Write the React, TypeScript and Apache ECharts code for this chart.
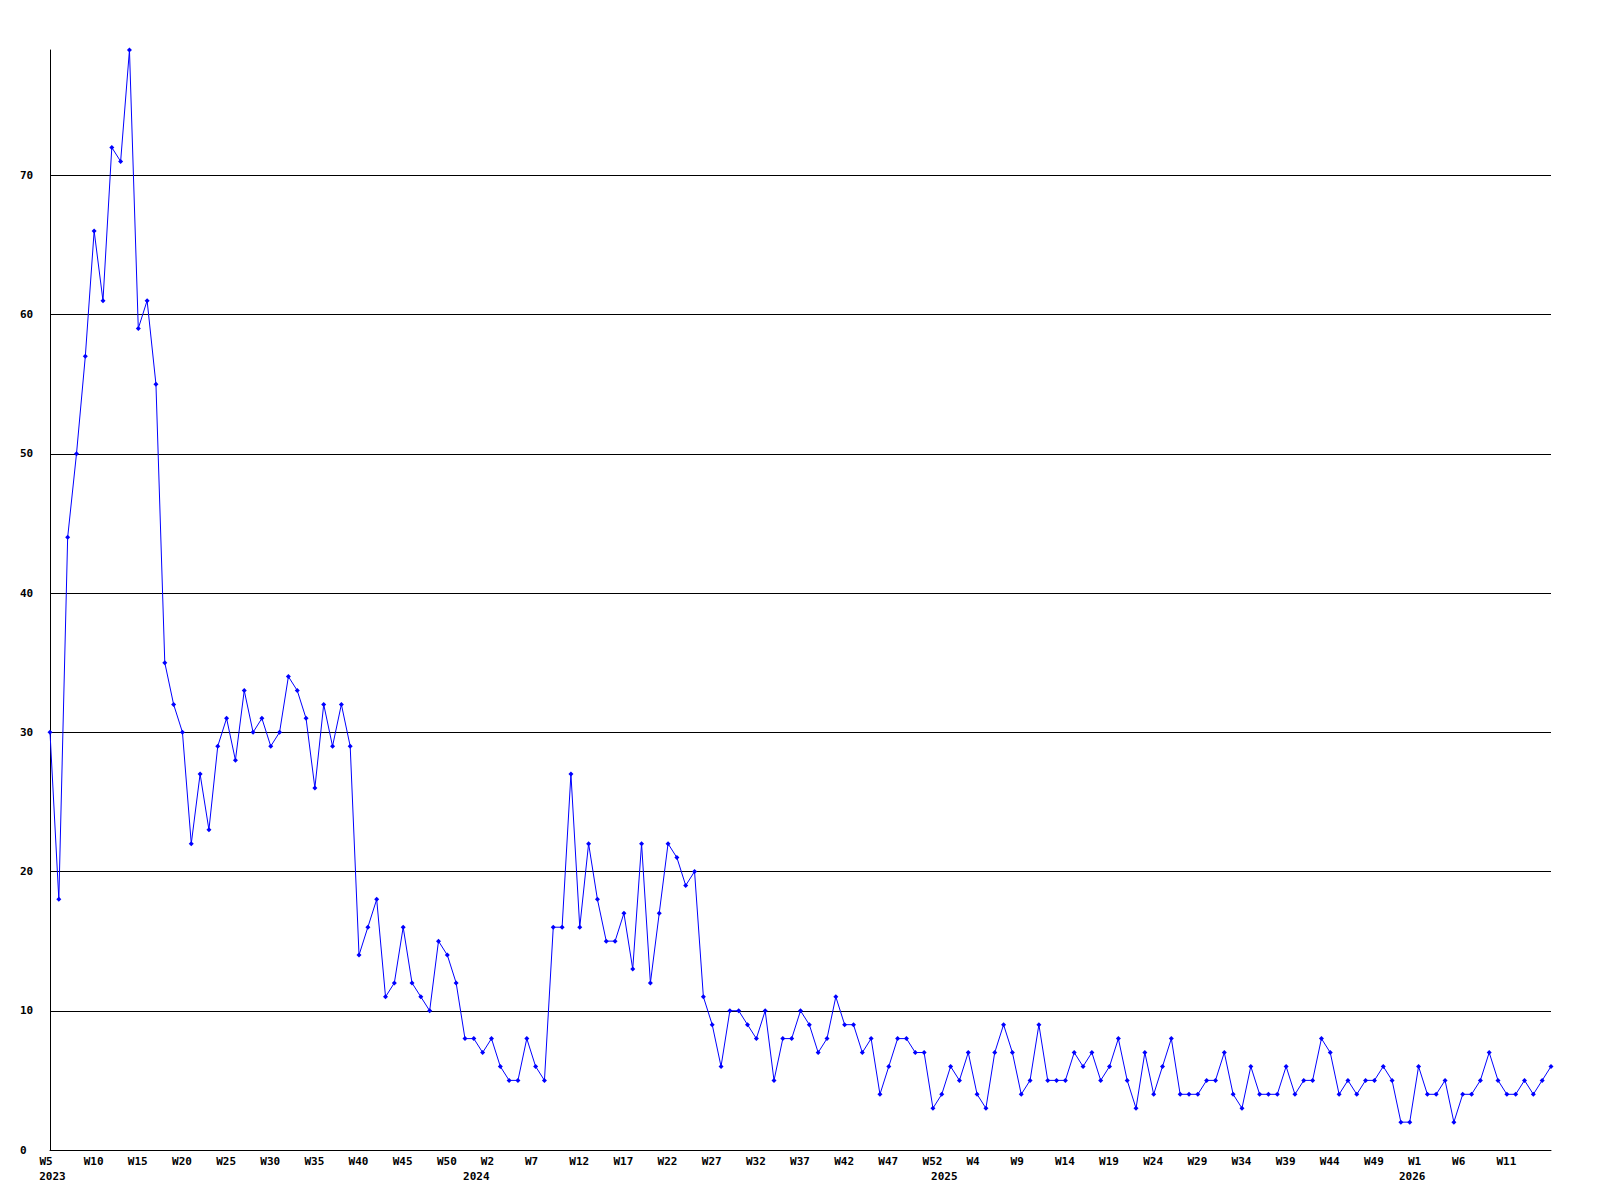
import React, { useEffect, useRef } from "react";
import * as echarts from "echarts";

// Year segments of the weekly axis (week numbering starts at W0 each year)
const years = [2023, 2024, 2025, 2026];
const firstWeek = [5, 0, 0, 0];
const lastWeek = [52, 52, 52, 16];

// Weekly values per year
const values2023 = [
  30, 18, 44, 50, 57, 66, 61, 72, 71, 79,
  59, 61, 55, 35, 32, 30, 22, 27, 23, 29,
  31, 28, 33, 30, 31, 29, 30, 34, 33, 31,
  26, 32, 29, 32, 29, 14, 16, 18, 11, 12,
  16, 12, 11, 10, 15, 14, 12, 8,
];
const values2024 = [
  8, 7, 8, 6, 5, 5, 8, 6, 5, 16, 16,
  27, 16, 22, 18, 15, 15, 17, 13, 22, 12,
  17, 22, 21, 19, 20, 11, 9, 6, 10, 10,
  9, 8, 10, 5, 8, 8, 10, 9, 7, 8,
  11, 9, 9, 7, 8, 4, 6, 8, 8, 7,
  7, 3,
];
const values2025 = [
  4, 6, 5, 7, 4, 3, 7, 9, 7, 4, 5,
  9, 5, 5, 5, 7, 6, 7, 5, 6, 8,
  5, 3, 7, 4, 6, 8, 4, 4, 4, 5,
  5, 7, 4, 3, 6, 4, 4, 4, 6, 4,
  5, 5, 8, 7, 4, 5, 4, 5, 5, 6,
  5, 2,
];
const values2026 = [2, 6, 4, 4, 5, 2, 4, 4, 5, 7, 5, 4, 4, 5, 4, 5, 6];

const yTicks = [0, 10, 20, 30, 40, 50, 60, 70];

const categories: { year: number; week: number }[] = [];
years.forEach((y, k) => {
  for (let w = firstWeek[k]; w <= lastWeek[k]; w++) categories.push({ year: y, week: w });
});
const values = [...values2023, ...values2024, ...values2025, ...values2026];
const catKeys = categories.map((c) => `${c.year}-W${c.week}`);
const isYearStart = (i: number) => i === 0 || categories[i].year !== categories[i - 1].year;
const lastIndex = categories.length - 1;

const FONT = "DejaVu Sans Mono";
const txt = { fontFamily: FONT, fontWeight: "bold" as const, fontSize: 11, color: "#000" };

export default function App() {
  const ref = useRef<HTMLDivElement>(null);
  useEffect(() => {
    if (!ref.current) return;
    const chart = echarts.init(ref.current, null, { renderer: "svg" });
    chart.setOption({
      animation: false,
      backgroundColor: "#ffffff",
      grid: { left: 50, top: 50, width: 1501, height: 1100, containLabel: false },
      xAxis: [
        {
          type: "category",
          data: catKeys,
          boundaryGap: false,
          axisLine: { show: true, lineStyle: { color: "#000", width: 1 } },
          axisTick: { show: false },
          splitLine: { show: false },
          axisLabel: {
            interval: (i: number) => i % 5 === 0 && i !== lastIndex,
            formatter: (_v: string, i: number) => {
              const s = `W${categories[i].week}`;
              return s.length === 2 ? `{w2|${s}}` : `{w3|${s}}`;
            },
            ...txt,
            margin: 6,
            align: "center",
            rich: {
              w2: { ...txt, padding: [0, 8, 0, 0] },
              w3: { ...txt, padding: [0, 1, 0, 0] },
            },
          },
        },
        {
          type: "category",
          data: catKeys,
          boundaryGap: false,
          position: "bottom",
          axisLine: { show: false },
          axisTick: { show: false },
          splitLine: { show: false },
          axisLabel: {
            interval: (i: number) => isYearStart(i),
            formatter: (_v: string, i: number) => `{y|${categories[i].year}}`,
            ...txt,
            margin: 21,
            align: "center",
            rich: {
              y: { ...txt, padding: [0, 0, 0, 5] },
            },
          },
        },
      ],
      yAxis: {
        type: "value",
        min: 0,
        max: 79,
        interval: 10,
        axisLine: { show: true, lineStyle: { color: "#000", width: 1 } },
        axisTick: { show: false },
        splitLine: {
          show: true,
          showMinLine: false,
          showMaxLine: false,
          lineStyle: { color: "#000", width: 1 },
        },
        axisLabel: {
          showMaxLabel: false,
          formatter: (v: number) => (yTicks.includes(v) ? String(v) : ""),
          ...txt,
          margin: 30,
          align: "left",
        },
      },
      series: [
        {
          type: "line",
          xAxisIndex: 0,
          data: values,
          symbol: "diamond",
          symbolSize: 5,
          showAllSymbol: true,
          lineStyle: { color: "#0000ff", width: 1 },
          itemStyle: { color: "#0000ff" },
          emphasis: { disabled: true },
        },
      ],
    });
    return () => chart.dispose();
  }, []);
  return (
    <div
      ref={ref}
      style={{ position: "absolute", left: 0, top: 0, width: 1600, height: 1200, background: "#fff" }}
    />
  );
}
